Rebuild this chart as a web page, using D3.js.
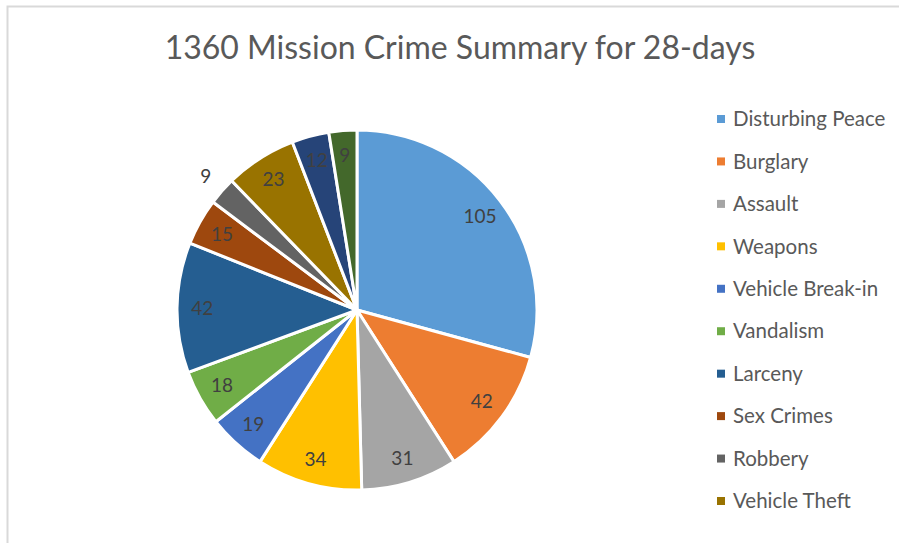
<!DOCTYPE html>
<html>
<head>
<meta charset="utf-8">
<script src="https://cdn.jsdelivr.net/npm/d3@7"></script>
<style>
  body { margin: 0; background: #fff; }
  svg { display: block; }
</style>
</head>
<body>
<div id="chart"></div>
<script>
// chart data
const categories = ['Disturbing Peace', 'Burglary', 'Assault', 'Weapons', 'Vehicle Break-in',
  'Vandalism', 'Larceny', 'Sex Crimes', 'Robbery', 'Vehicle Theft', 'Narcotics', 'Trespassing'];
const counts = [105, 42, 31, 34, 19, 18, 42, 15, 9, 23, 12, 9];
const colors = ['#5B9BD5', '#ED7D31', '#A5A5A5', '#FFC000', '#4472C4', '#70AD47',
  '#255E91', '#9E480E', '#636363', '#997300', '#264478', '#43682B'];
const legendShown = 10; // the legend box only fits the first ten entries
const titleText = '1360 Mission Crime Summary for 28-days';

const width = 899, height = 543;
const cx = 357, cy = 310, radius = 180;

const svg = d3.select('#chart').append('svg')
  .attr('width', width).attr('height', height);

// chart area border (only top and left edges are inside the frame)
svg.append('path')
  .attr('d', `M7.5,${height} V6.5 H${width}`)
  .attr('fill', 'none').attr('stroke', '#d9d9d9').attr('stroke-width', 2);

svg.append('text')
  .attr('x', 460).attr('y', 59)
  .attr('text-anchor', 'middle')
  .style('font-family', 'Lato, "Open Sans", sans-serif')
  .style('font-size', '32px')
  .style('fill', '#595959')
  .text(titleText);

const data = categories.map((c, i) => ({ name: c, value: counts[i], color: colors[i] }));

const pie = d3.pie().value(d => d.value).sort(null);
const arcs = pie(data);
const arc = d3.arc().innerRadius(0).outerRadius(radius);
const labelArc = d3.arc().innerRadius(radius * 0.86).outerRadius(radius * 0.86);
const outerLabelArc = d3.arc().innerRadius(radius * 1.12).outerRadius(radius * 1.12);

const g = svg.append('g').attr('transform', `translate(${cx},${cy})`);

g.selectAll('path.slice')
  .data(arcs).enter().append('path')
  .attr('class', 'slice')
  .attr('d', arc)
  .attr('fill', d => d.data.color)
  .attr('stroke', '#fff')
  .attr('stroke-width', 3)
  .attr('stroke-linejoin', 'round');

g.selectAll('text.lbl')
  .data(arcs).enter().append('text')
  .attr('class', 'lbl')
  .attr('transform', d => {
    // Robbery's label sits outside the pie in the original
    const p = d.data.name === 'Robbery' ? outerLabelArc.centroid(d) : labelArc.centroid(d);
    return `translate(${p[0]},${p[1]})`;
  })
  .attr('text-anchor', 'middle')
  .attr('dy', '0.35em')
  .style('font-family', 'Lato, "Open Sans", sans-serif')
  .style('font-size', '19px')
  .style('fill', '#404040')
  .text(d => d.data.value);

// legend
const legendY = d3.scalePoint()
  .domain(categories.slice(0, legendShown))
  .range([119, 501]);

const legend = svg.append('g');
const items = legend.selectAll('g')
  .data(data.slice(0, legendShown)).enter().append('g')
  .attr('transform', d => `translate(717,${legendY(d.name)})`);

items.append('rect')
  .attr('x', 0).attr('y', -4)
  .attr('width', 8).attr('height', 8)
  .attr('fill', d => d.color);

items.append('text')
  .attr('x', 16).attr('dy', '0.35em')
  .style('font-family', 'Lato, "Open Sans", sans-serif')
  .style('font-size', '20.5px')
  .style('fill', '#595959')
  .text(d => d.name);
</script>
</body>
</html>
